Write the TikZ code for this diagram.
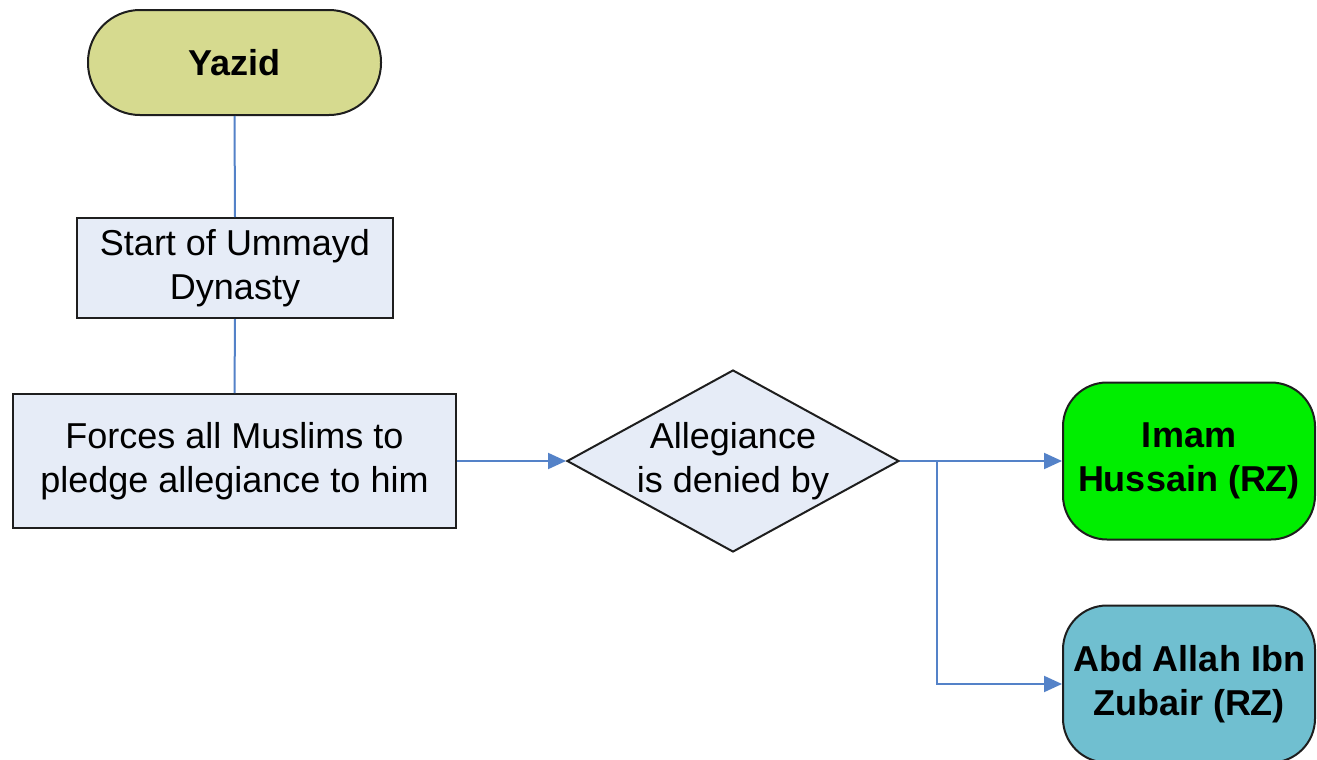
\documentclass[tikz,border=0pt]{standalone}
\usepackage{fontspec}
\setmainfont{Liberation Sans}
\usetikzlibrary{shapes.geometric,arrows.meta}
\definecolor{yz}{RGB}{214,218,143}
\definecolor{bx}{RGB}{230,236,247}
\definecolor{gr}{RGB}{0,238,0}
\definecolor{tl}{RGB}{112,191,208}
\definecolor{ln}{RGB}{84,130,200}
\definecolor{bd}{RGB}{30,30,30}
\tikzset{
  base/.style={draw=bd, line width=1pt, align=center, inner sep=0pt,
    font=\fontsize{18}{22}\selectfont},
  term/.style={base, rounded corners=26pt, minimum width=146.5pt, minimum height=52.5pt, font=\fontsize{18}{22}\selectfont\bfseries},
  procbox/.style={base, fill=bx},
  endbox/.style={base, rounded corners=22pt, minimum width=126pt, minimum height=78.5pt, font=\fontsize{18}{22}\selectfont\bfseries},
  dia/.style={draw=bd, line width=1pt, fill=bx, diamond, inner sep=0pt, minimum width=166pt, minimum height=91pt},
  txt/.style={align=center, inner sep=0pt, font=\fontsize{18}{22}\selectfont},
  conn/.style={draw=ln, line width=1pt},
  arr/.style={conn, -{Triangle[length=9pt,width=8pt]}}
}
\begin{document}
\begin{tikzpicture}[x=0.5pt,y=-0.5pt]
\useasboundingbox[fill=white] (0,0) rectangle (1317,760);
\node[term, fill=yz] (yazid) at (234.5,62.5) {Yazid};
\node[procbox, minimum width=158pt, minimum height=50pt] (start) at (235,268) {Start of Ummayd\\Dynasty};
\node[procbox, minimum width=221.5pt, minimum height=67pt] (forces) at (234.5,461) {Forces all Muslims to\\pledge allegiance to him};
\node[dia] (deny) at (733,461) {};
\node[txt] (denytxt) at (deny.center) {Allegiance\\is denied by};
\node[endbox, fill=gr] (imam) at (1189,461) {Imam\\Hussain (RZ)};
\node[endbox, fill=tl] (abd) at (1189,684) {Abd Allah Ibn\\Zubair (RZ)};
\coordinate (split) at (937,461);
\draw[conn] (yazid.south) -- (start.north);
\draw[conn] (start.south) -- (forces.north);
\draw[arr] (forces.east) -- (deny.west);
\draw[arr] (deny.east) -- (imam.west);
\draw[arr] (deny.east) -- (split) |- (abd.west);
\end{tikzpicture}
\end{document}
